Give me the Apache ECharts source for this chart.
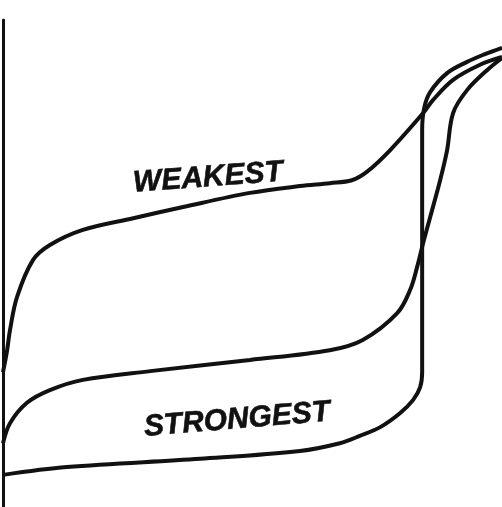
<!DOCTYPE html>
<html>
<head>
<meta charset="utf-8">
<script src="https://cdn.jsdelivr.net/npm/echarts@6/dist/echarts.min.js"></script>
<style>html,body{margin:0;padding:0;background:#fff}#c{width:502px;height:507px}</style>
</head>
<body>
<div id="c"></div>
<script>
// Curves in relative units (x: 0-100 across, y: 0-100 up)
const weakestX   = [0, 0.8, 1.4, 2.8, 6.0, 9.4, 16.0, 26.1, 36.1, 49.5, 59.5, 65.5, 69.9, 72.9, 77.6, 84.2, 86.2, 90.2, 95.6, 100];
const weakestY   = [27.7, 32.0, 36.3, 43.1, 50.7, 53.8, 56.9, 59.3, 61.6, 64.5, 65.9, 66.5, 67.1, 68.8, 73.3, 80.9, 83.6, 87.7, 90.8, 92.4];
const middleX    = [0, 1.4, 4.8, 9.4, 16.0, 29.5, 49.5, 65.5, 72.1, 79.0, 81.6, 83.0, 84.2, 85.6, 87.6, 89.0, 90.2, 93.0, 97.0, 100];
const middleY    = [13.1, 17.2, 21.4, 24.0, 26.1, 27.9, 30.2, 32.2, 34.3, 39.8, 44.6, 49.3, 54.2, 59.5, 67.1, 73.3, 80.9, 85.6, 89.7, 92.2];
const strongestX = [0, 12.8, 39.5, 59.5, 67.5, 71.5, 75.6, 79.6, 82.2, 83.6, 84.0, 84.0, 84.0, 84.0, 84.4, 85.6, 89.0, 93.0, 96.6, 100];
const strongestY = [6.6, 8.2, 9.9, 11.5, 13.1, 14.6, 16.4, 19.3, 22.0, 24.6, 27.7, 42.5, 63.0, 77.4, 81.9, 85.2, 89.1, 91.4, 93.0, 94.3];
const labels = ['WEAKEST', 'STRONGEST'];

const pair = (xs, ys) => xs.map((x, i) => [x, ys[i]]);
const lineStyle = { color: '#111', width: 4 };
const mk = (name, data) => ({
  name, type: 'line', data, smooth: 0.35, showSymbol: false, symbol: 'none',
  lineStyle, silent: true, animation: false, clip: false
});

const chart = echarts.init(document.getElementById('c'));
chart.setOption({
  animation: false,
  grid: { left: 3, right: 0, top: 20, bottom: 0 },
  xAxis: { type: 'value', min: 0, max: 100, show: false },
  yAxis: {
    type: 'value', min: 0, max: 100,
    axisLine: { show: true, lineStyle: { color: '#111', width: 3 } },
    axisTick: { show: false }, axisLabel: { show: false }, splitLine: { show: false }
  },
  series: [
    mk('weakest', pair(weakestX, weakestY)),
    mk('middle', pair(middleX, middleY)),
    mk('strongest', pair(strongestX, strongestY))
  ],
  graphic: [
    { type: 'text', x: 208, y: 178, rotation: 4.2 * Math.PI / 180,
      style: { text: labels[0], font: 'italic bold 30px "Liberation Sans", Arial, sans-serif',
               fill: '#111', stroke: '#111', lineWidth: 0.6,
               textAlign: 'center', textVerticalAlign: 'middle' } },
    { type: 'text', x: 237, y: 420, rotation: 4.8 * Math.PI / 180,
      style: { text: labels[1], font: 'italic bold 30px "Liberation Sans", Arial, sans-serif',
               fill: '#111', stroke: '#111', lineWidth: 0.6,
               textAlign: 'center', textVerticalAlign: 'middle' } }
  ]
});
</script>
</body>
</html>
